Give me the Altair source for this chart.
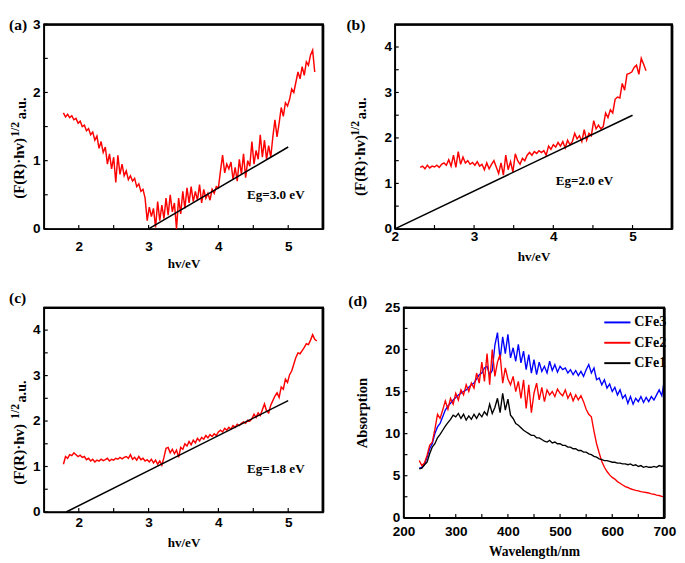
import altair as alt
import numpy as np
import pandas as pd

SANS = "Liberation Sans"
SERIF = "Liberation Serif"

# ---------------- panel (a) ----------------
a_range = [1.78, 5.38]
a_vals = [
    1.70, 1.64, 1.68, 1.63, 1.66, 1.60, 1.62, 1.55, 1.58, 1.50,
    1.52, 1.44, 1.47, 1.38, 1.42, 1.30, 1.36, 1.18, 1.28, 1.12,
    1.20, 0.95, 1.10, 0.88, 1.05, 0.68, 1.08, 0.80, 0.95, 0.78,
    0.85, 0.72, 0.78, 0.70, 0.74, 0.62, 0.66, 0.55, 0.58, 0.45,
    0.12, 0.32, 0.18, 0.30, 0.02, 0.40, 0.12, 0.35, 0.15, 0.45,
    0.20, 0.50, 0.25, 0.38, 0.00, 0.45, 0.22, 0.55, 0.30, 0.60,
    0.38, 0.62, 0.40, 0.55, 0.42, 0.65, 0.38, 0.58, 0.45, 0.52,
    0.42, 0.58, 0.52, 0.62, 0.60, 0.85, 1.08, 0.82, 0.95, 0.88,
    0.98, 0.72, 0.90, 0.70, 1.02, 0.80, 1.10, 0.75, 1.00, 0.92,
    1.28, 0.95, 1.15, 1.02, 1.38, 1.05, 1.30, 1.02, 1.22, 1.05,
    1.35, 1.60, 1.35, 1.55, 1.78, 1.65, 1.85, 1.80, 1.90, 2.05,
    2.00, 2.15, 2.30, 2.20, 2.38, 2.25, 2.45, 2.40, 2.55, 2.62,
    2.30,
]
a_fit_x = [3.0, 5.0]
a_fit_y = [0.0, 1.2]

# ---------------- panel (b) ----------------
b_range = [2.32, 5.17]
b_vals = [
    1.35, 1.38, 1.32, 1.40, 1.34, 1.38, 1.36, 1.40, 1.35, 1.42,
    1.45, 1.40, 1.52, 1.38, 1.62, 1.35, 1.70, 1.42, 1.58, 1.45,
    1.50, 1.42, 1.46, 1.40, 1.48, 1.38, 1.42, 1.30, 1.45, 1.32,
    1.42, 1.50, 1.36, 1.22, 1.45, 1.18, 1.62, 1.30, 1.48, 1.25,
    1.65, 1.50, 1.42, 1.55, 1.50, 1.62, 1.68, 1.62, 1.70, 1.66,
    1.72, 1.68, 1.72, 1.62, 1.82, 1.75, 1.85, 1.80, 1.90, 1.82,
    1.92, 1.78, 1.95, 1.85, 1.92, 2.10, 1.98, 2.05, 1.92, 2.18,
    1.95, 2.10, 2.05, 2.38, 2.20, 2.28, 2.20, 2.25, 2.55, 2.45,
    2.62, 2.55, 2.85, 2.90, 2.88, 3.20, 3.05, 3.40, 3.42, 3.45,
    3.55, 3.60, 3.40, 3.75, 3.62, 3.48,
]
b_fit_x = [2.0, 5.0]
b_fit_y = [0.0, 2.5]

# ---------------- panel (c) ----------------
c_range = [1.78, 5.41]
c_vals = [
    1.05, 1.22, 1.18, 1.26, 1.24, 1.30, 1.26, 1.22, 1.25, 1.20,
    1.22, 1.15, 1.18, 1.12, 1.16, 1.10, 1.14, 1.12, 1.16, 1.13,
    1.15, 1.18, 1.12, 1.16, 1.14, 1.18, 1.16, 1.20, 1.17, 1.20,
    1.22, 1.18, 1.26, 1.16, 1.20, 1.14, 1.22, 1.15, 1.18, 1.12,
    1.15, 1.10, 1.16, 1.08, 1.14, 1.05, 1.12, 1.03, 1.20, 1.40,
    1.42, 1.30, 1.38, 1.28, 1.36, 1.20, 1.42, 1.38, 1.50, 1.45,
    1.55, 1.48, 1.58, 1.52, 1.62, 1.56, 1.64, 1.60, 1.68, 1.63,
    1.70, 1.66, 1.72, 1.68, 1.76, 1.80, 1.76, 1.84, 1.80, 1.86,
    1.82, 1.90, 1.86, 1.93, 1.90, 1.95, 1.98, 1.95, 2.02, 2.00,
    2.05, 2.15, 2.08, 2.18, 2.12, 2.25, 2.38, 2.22, 2.18, 2.35,
    2.45, 2.55, 2.62, 2.52, 2.75, 2.70, 2.92, 2.85, 3.02, 3.10,
    3.25, 3.40, 3.50, 3.48, 3.55, 3.62, 3.70, 3.68, 3.78, 3.90,
    3.80, 3.76,
]
c_fit_x = [1.82, 5.0]
c_fit_y = [0.0, 2.45]

# ---------------- panel (d) ----------------
d_range = [230, 700]
d_cfe3 = [
    5.9, 6.0, 6.3, 7.2, 8.2, 8.8, 10.0, 10.8, 11.2, 12.0,
    12.8, 13.3, 13.6, 14.0, 14.3, 14.6, 14.8, 15.0, 15.2, 15.5,
    15.8, 16.0, 16.5, 17.0, 17.2, 17.8, 18.0, 17.0, 17.5, 20.5,
    22.0, 18.8, 21.5, 19.5, 21.8, 19.0, 20.2, 18.6, 20.6, 18.4,
    19.8, 17.6, 19.4, 17.2, 18.8, 17.0, 18.5, 17.4, 18.0, 17.2,
    18.6, 17.5, 18.2, 17.3, 18.0, 17.6, 17.8, 17.2, 17.6, 17.0,
    17.5, 16.9, 17.4, 16.8, 17.6, 18.2, 17.2, 17.8, 16.4, 16.6,
    15.8, 16.4, 15.4, 15.9, 15.0, 15.5, 14.6, 15.2, 14.2, 14.6,
    13.6, 14.4, 13.5, 14.2, 13.8, 14.4, 13.7, 14.3, 13.8, 14.4,
    14.0, 14.6, 15.2, 14.5, 16.4,
]
d_cfe2 = [
    6.8, 6.2, 6.5, 7.4, 8.6, 9.0, 10.5, 12.3, 11.8, 12.8,
    13.9, 12.9, 14.2, 13.5, 14.8, 14.0, 15.2, 14.6, 15.8, 15.0,
    16.0, 15.4, 17.2, 16.0, 18.5, 16.2, 19.5, 15.8, 20.0, 16.8,
    18.5, 19.4, 16.0, 17.8, 16.5, 15.8, 16.8, 15.0, 16.2, 14.2,
    16.4, 13.0, 15.8, 12.5, 14.8, 16.0, 14.0, 15.5, 13.8, 15.2,
    14.6, 15.0, 14.4, 15.3, 14.8, 14.5, 15.2, 14.2, 14.8, 13.9,
    14.6, 14.0, 14.5, 13.8, 12.9, 12.3, 12.0, 10.3, 8.8, 7.7,
    6.7, 6.0, 5.5, 5.1, 4.8, 4.6, 4.3, 4.1, 3.9, 3.7,
    3.6, 3.45, 3.35, 3.25, 3.2, 3.1, 3.05, 3.0, 2.95, 2.85,
    2.8, 2.7, 2.65, 2.55, 2.5,
]
d_cfe1 = [
    5.8, 5.9, 6.3, 6.6, 7.6, 8.4, 8.8, 9.5, 9.9, 10.4,
    10.9, 11.3, 11.7, 12.2, 12.0, 12.4, 11.8, 12.3, 11.6, 12.1,
    11.7, 12.3, 11.8, 12.4, 12.0, 12.6, 12.2, 13.5, 12.4, 13.1,
    14.2, 12.5, 14.8, 12.8, 14.1, 12.2, 11.8, 11.2, 11.0, 10.7,
    10.4, 10.2, 10.0, 9.8, 9.8, 9.5, 9.5, 9.3, 9.1, 9.0,
    9.2, 8.9, 9.0, 8.8, 8.8, 8.6, 8.6, 8.4, 8.4, 8.2,
    8.2, 8.0, 8.0, 7.8, 7.8, 7.6, 7.5, 7.3, 7.2, 7.0,
    6.9, 6.8, 6.8, 6.7, 6.6, 6.6, 6.5, 6.5, 6.4, 6.4,
    6.3, 6.4, 6.2, 6.3, 6.1, 6.2, 6.0, 6.1, 6.0, 6.0,
    6.1, 6.0, 6.2, 6.1, 6.3,
]
d_series = ["CFe3", "CFe2", "CFe1"]
d_colors = ["#0000ff", "#ff0000", "#000000"]

# tick values / labels
ev_major = [2, 3, 4, 5]
ev_minor = [2.5, 3.5, 4.5]
y3_major = [0, 1, 2, 3]
y3_minor = [0.5, 1.5, 2.5]
y4_major = [0, 1, 2, 3, 4]
y4_minor = [0.5, 1.5, 2.5, 3.5]
wl_major = [200, 300, 400, 500, 600, 700]
wl_minor = [250, 350, 450, 550, 650]
ab_major = [0, 5, 10, 15, 20, 25]
ab_minor = [2.5, 7.5, 12.5, 17.5, 22.5]

TICK = 4
EDGE = 1.6  # thickness of the frame bars (px)


def txt(t, x, y, size, align="left", baseline="top", angle=0, font=SERIF):
    kw = dict(align=align, baseline=baseline, font=font, fontWeight="bold",
              fontSize=size, color="black")
    if angle:
        kw["angle"] = angle
    return alt.Chart(pd.DataFrame({"t": [t]})).mark_text(**kw).encode(
        x=alt.value(x), y=alt.value(y), text="t:N")


def frame_bars(w, h):
    """top and right edges of the plot frame as thin filled bars inside the plot area"""
    d = pd.DataFrame({"edge": ["top", "right"],
                      "x0": [0.0, w - EDGE], "x1": [float(w), float(w)],
                      "y0": [0.0, 0.0], "y1": [EDGE, float(h)]})
    top = alt.Chart(d.iloc[[0]]).mark_rect(color="black", clip=False).encode(
        x=alt.value(0), x2=alt.value(w), y=alt.value(0), y2=alt.value(EDGE))
    right = alt.Chart(d.iloc[[1]]).mark_rect(color="black", clip=False).encode(
        x=alt.value(w - EDGE), x2=alt.value(w), y=alt.value(0), y2=alt.value(h))
    return [top, right]


def axis(values, labpad, title="", titlepad=0, titlesize=13.5):
    kw = dict(values=values, format="d", ticks=False, tickSize=0, grid=False,
              labelFlush=False, labelOverlap=False, labelFont=SANS,
              labelFontWeight="bold", labelFontSize=14, labelColor="black",
              labelPadding=labpad, domainColor="black", domainWidth=1.5)
    if title:
        kw.update(title=title, titleFont=SERIF, titleFontWeight="bold",
                  titleFontSize=titlesize, titleColor="black", titlePadding=titlepad)
    else:
        kw.update(title="")
    return alt.Axis(**kw)


def edge_axis(orient):
    return alt.Axis(orient=orient, labels=False, ticks=False, grid=False, title="",
                    domain=True, domainColor="black", domainWidth=1.5, zindex=1)


def encodings(field_x, field_y, xdom, ydom, xaxis, yaxis):
    xs = alt.Scale(domain=xdom, nice=False, zero=False)
    ys = alt.Scale(domain=ydom, nice=False, zero=False)
    return {
        "main": (alt.X(field_x, scale=xs, axis=xaxis), alt.Y(field_y, scale=ys, axis=yaxis)),
        "none": (alt.X(field_x, scale=xs, axis=None), alt.Y(field_y, scale=ys, axis=None)),
        "edge": (alt.X(field_x, scale=xs, axis=edge_axis("top")),
                 alt.Y(field_y, scale=ys, axis=edge_axis("right"))),
    }


def tick_layers(enc, xn, yn, xvals, yvals, h):
    X, Y = enc["none"]
    xt = alt.Chart(pd.DataFrame({xn: xvals})).mark_rule(
        color="black", strokeWidth=1.2).encode(x=X, y=alt.value(h), y2=alt.value(h - TICK))
    yt = alt.Chart(pd.DataFrame({yn: yvals})).mark_rule(
        color="black", strokeWidth=1.2).encode(y=Y, x=alt.value(0), x2=alt.value(TICK))
    return [xt, yt]


def frame_line(enc, xn, yn, xdom, ydom):
    X, Y = enc["edge"]
    corners = pd.DataFrame({
        xn: [xdom[0], xdom[1], xdom[1]],
        yn: [ydom[1], ydom[1], ydom[0]],
        "k": [0, 1, 2],
    })
    return alt.Chart(corners).mark_line(color="black", strokeWidth=1.5, clip=False).encode(
        x=X, y=Y, order="k:Q")


def ev_panel(rng, vals, fx, fy, xdom, ydom, ymaj, ymin, w, h, tag, tag_xy,
             eg, eg_xy, yt, xlabpad, xtitlepad, ylabpad):
    enc = encodings("hv:Q", "F:Q", xdom, ydom,
                    axis(ev_major, xlabpad, "hv/eV", xtitlepad), axis(ymaj, ylabpad))
    df = pd.DataFrame({"hv": np.linspace(rng[0], rng[1], len(vals)), "F": vals})
    X, Y = enc["main"]
    curve = alt.Chart(df).mark_line(color="#ff0000", strokeWidth=1.5).encode(x=X, y=Y)
    Xn, Yn = enc["none"]
    fit = alt.Chart(pd.DataFrame({"hv": fx, "F": fy})).mark_line(
        color="black", strokeWidth=1.6).encode(x=Xn, y=Yn)
    ex = (eg_xy[0] - xdom[0]) / (xdom[1] - xdom[0]) * w
    ey = (1 - (eg_xy[1] - ydom[0]) / (ydom[1] - ydom[0])) * h
    layers = [curve, fit] + tick_layers(enc, "hv", "F", ev_major + ev_minor, ymaj + ymin, h) + [
        frame_line(enc, "hv", "F", xdom, ydom),
        txt(eg, ex, ey, 13.5, baseline="middle"),
        txt(tag, tag_xy[0], tag_xy[1], 16),
        txt("(F(R)·hv)", yt[0], yt[1], 15.5, baseline="middle", angle=270),
        txt("1/2", yt[2], yt[3], 12, baseline="middle", angle=270),
        txt("a.u.", yt[4], yt[5], 14.5, baseline="middle", angle=270),
    ] + frame_bars(w, h)
    return alt.layer(*layers).resolve_axis(x="independent", y="independent").properties(
        width=w, height=h)


A = ev_panel(a_range, a_vals, a_fit_x, a_fit_y, [1.5, 5.5], [0, 3], y3_major, y3_minor,
             288, 211, "(a)", (-36, -7), "Eg=3.0 eV", (4.41, 0.49),
             (-25, 180, -29.5, 116, -22.5, 98), 11, 4, 4)
B = ev_panel(b_range, b_vals, b_fit_x, b_fit_y, [2, 5.5], [0, 4.5], y4_major, y4_minor,
             286, 211, "(b)", (-50, -7), "Eg=2.0 eV", (4.03, 1.06),
             (-36, 177, -40.5, 115, -33.5, 98), 1, 7, 3.5)
C = ev_panel(c_range, c_vals, c_fit_x, c_fit_y, [1.5, 5.5], [0, 4.5], y4_major, y4_minor,
             288, 211, "(c)", (-36, -18), "Eg=1.8 eV", (4.41, 0.95),
             (-25, 183, -29.5, 115, -22.5, 98), 4, 7, 4)

# panel (d)
wl = np.linspace(d_range[0], d_range[1], len(d_cfe1))
d_df = pd.DataFrame({
    "wl": np.concatenate([wl, wl, wl]),
    "abs": d_cfe3 + d_cfe2 + d_cfe1,
    "sample": [d_series[0]] * len(wl) + [d_series[1]] * len(wl) + [d_series[2]] * len(wl),
})
DW, DH = 269, 217
DXD, DYD = [200, 700], [0, 25]
denc = encodings("wl:Q", "abs:Q", DXD, DYD,
                 axis(wl_major, 7, "Wavelength/nm", 7, 14),
                 axis(ab_major, 4, "Absorption", 16, 15))
DX, DY = denc["main"]
d_lines = alt.Chart(d_df).mark_line(strokeWidth=1.4).encode(
    x=DX, y=DY,
    color=alt.Color("sample:N", scale=alt.Scale(domain=d_series, range=d_colors),
                    legend=alt.Legend(orient="none", legendX=206, legendY=1, title="",
                                      symbolType="stroke", symbolSize=729,
                                      symbolStrokeWidth=2, labelFont=SERIF,
                                      labelFontWeight="bold", labelFontSize=14.5,
                                      labelColor="black", labelOffset=3,
                                      rowPadding=-10, padding=0)),
)
D = alt.layer(
    *([d_lines] + tick_layers(denc, "wl", "abs", wl_major + wl_minor, ab_major + ab_minor, DH)
      + [frame_line(denc, "wl", "abs", DXD, DYD), txt("(d)", -57, -14, 16)]
      + frame_bars(DW, DH))
).resolve_axis(x="independent", y="independent").properties(width=DW, height=DH)

top = alt.hconcat(A, B, spacing=19)
bottom = alt.hconcat(C, D, spacing=21).resolve_legend(color="independent")
chart = (
    alt.vconcat(top, bottom, spacing=18)
    .resolve_legend(color="independent")
    .properties(padding=0, background="white")
    .configure_view(stroke="black", strokeWidth=1.5)
)

chart.save("out.html", embed_options={"renderer": "svg", "actions": False})
